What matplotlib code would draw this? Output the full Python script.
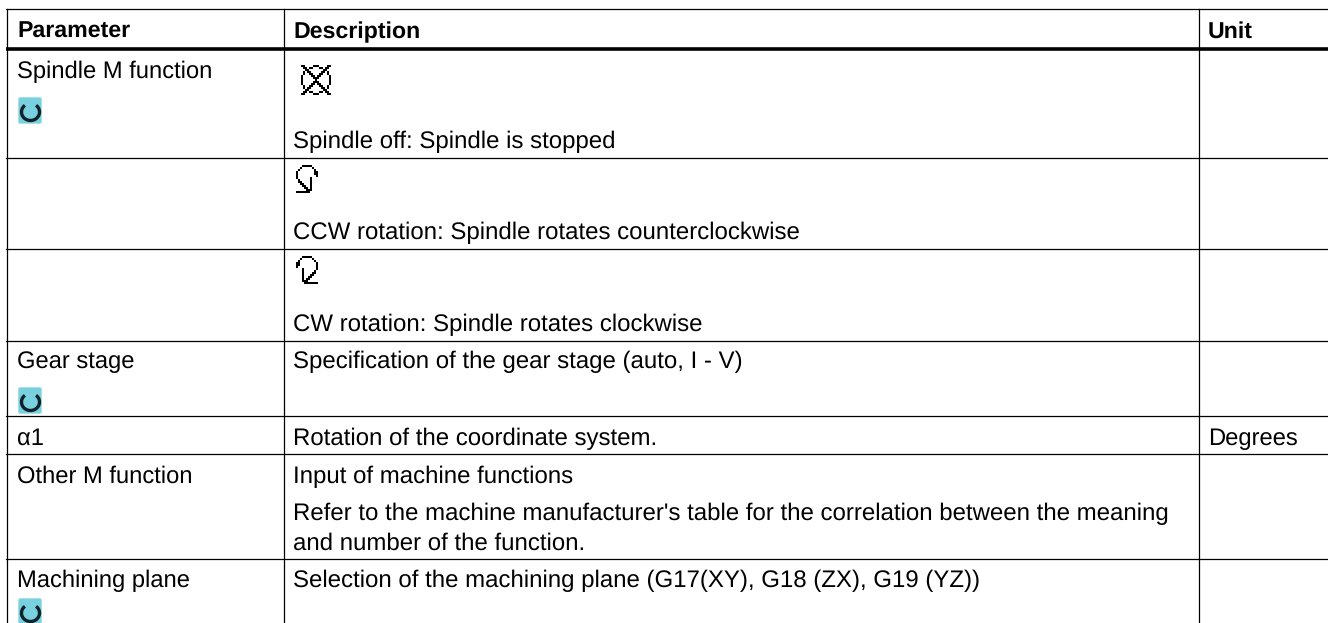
import matplotlib
matplotlib.use('Agg')
import numpy as np
import matplotlib.pyplot as plt
from matplotlib.patches import FancyBboxPatch, Arc

plt.rcParams['font.family'] = ['Liberation Sans', 'DejaVu Sans']
plt.rcParams['text.hinting'] = 'none'

# table content
header = ['Parameter', 'Description', 'Unit']
param_names = ['Spindle M function', 'Gear stage', 'α1', 'Other M function', 'Machining plane']
param_base = [78, 368, 445, 483, 587]
desc_lines = ['Spindle off: Spindle is stopped',
              'CCW rotation: Spindle rotates counterclockwise',
              'CW rotation: Spindle rotates clockwise',
              'Specification of the gear stage (auto, I - V)',
              'Rotation of the coordinate system.',
              'Input of machine functions',
              "Refer to the machine manufacturer's table for the correlation between the meaning",
              'and number of the function.',
              'Selection of the machining plane (G17(XY), G18 (ZX), G19 (YZ))']
desc_base = [148, 239, 331, 368, 445, 483, 520, 550, 587]
unit_text = 'Degrees'
unit_base = 445

row_lines = [157.5, 249, 341, 416, 454, 559]
col_lines = [6.5, 283.5, 1198.5]

# small pixel icons
icon_off = ['##....###....##',
            '.##.##...##.##.',
            '..##.......##..',
            '.#.##.....##.#.',
            '.#..##...##..#.',
            '#....##.##....#',
            '#.....###.....#',
            '#......#......#',
            '#.....###.....#',
            '#....##.##....#',
            '.#..##...##..#.',
            '.#.##.....##.#.',
            '..##.......##..',
            '.##.##...##.##.',
            '##....###....##']
icon_ccw = ['...#####...',
            '..#.....#..',
            '.#.......#.',
            '#........##',
            '#........##',
            '#.........#',
            '#......#...',
            '.#.....#...',
            '.##....#...',
            '..##...#...',
            '...##..#...',
            '....##.#...',
            '.....###...',
            '#######....']
icon_cw = [r[::-1] for r in icon_ccw]

fig = plt.figure(figsize=(13.28, 6.23), dpi=100)
ax = fig.add_axes([0, 0, 1, 1])
ax.set_xlim(0, 1328)
ax.set_ylim(623, 0)
ax.axis('off')

# grid
ax.plot([6, 1328], [9, 9], color='black', lw=0.9)
ax.plot([6, 1328], [48.5, 48.5], color='black', lw=2.6, solid_capstyle='butt')
for y in row_lines:
    ax.plot([6, 1328], [y, y], color='black', lw=0.9)
for x in col_lines:
    ax.plot([x, x], [9, 623], color='black', lw=0.9)

for x, t in zip([17, 293, 1208], header):
    ax.text(x, 38, t, fontsize=16.7, fontweight='bold', va='baseline', color='black')
for t, y in zip(param_names, param_base):
    ax.text(17, y, t, fontsize=17.1, va='baseline', color='black')
for t, y in zip(desc_lines, desc_base):
    ax.text(293, y, t, fontsize=17.28, va='baseline', color='black')
ax.text(1208, unit_base, unit_text, fontsize=17.1, va='baseline', color='black')


def cycle_icon(top):
    ax.add_patch(FancyBboxPatch((18.5, top + 0.5), 23, 26, boxstyle='round,pad=0,rounding_size=2',
                                fc='#79d0de', ec='#a8e0e8', lw=0.8))
    ax.add_patch(Arc((30.5, top + 15), 18, 17, theta1=-50, theta2=230, color='#10222a', lw=2.4))


def bitmap(rows, x, y):
    arr = np.array([[0.0 if c == '#' else 1.0 for c in r] for r in rows])
    ax.imshow(arr, cmap='gray', vmin=0, vmax=1, interpolation='nearest', zorder=3,
              extent=[x, x + 2 * arr.shape[1], y + 2 * arr.shape[0], y], aspect='auto')


for top in [97, 387, 598]:
    cycle_icon(top)
bitmap(icon_off, 301, 65)
bitmap(icon_ccw, 296, 165)
bitmap(icon_cw, 296, 256)
ax.set_xlim(0, 1328)
ax.set_ylim(623, 0)

fig.savefig('out.png', dpi=100)
